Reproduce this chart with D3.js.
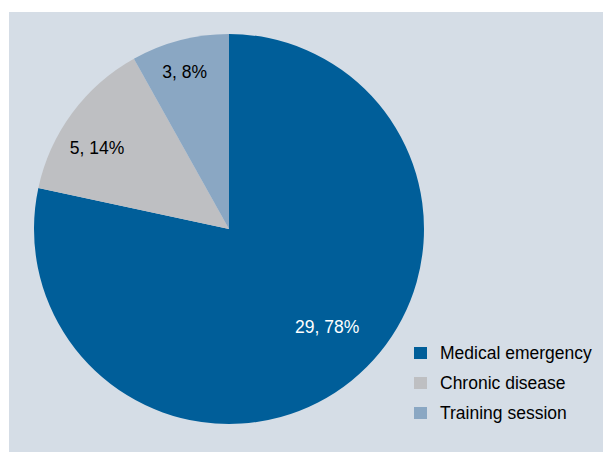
<!DOCTYPE html>
<html>
<head>
<meta charset="utf-8">
<script src="https://cdn.jsdelivr.net/npm/d3@7"></script>
<style>
  body { margin: 0; background: #fff; }
  svg text { font-family: "Liberation Sans", Arial, sans-serif; }
</style>
</head>
<body>
<div id="chart"></div>
<script>
// chart data
var categories = ["Medical emergency", "Chronic disease", "Training session"];
var counts = [29, 5, 3];
var percents = ["78%", "14%", "8%"];
var colors = ["#005e99", "#bebfc2", "#8aa7c3"];
var labelColors = ["#ffffff", "#000000", "#000000"];

var width = 603;
var height = 452;

var svg = d3.select("#chart")
  .append("svg")
  .attr("width", width)
  .attr("height", height);

// plot area background
svg.append("rect")
  .attr("x", 9)
  .attr("y", 12)
  .attr("width", width - 9)
  .attr("height", height - 12)
  .attr("fill", "#d5dde6");

var cx = 229;
var cy = 229;
var radius = 195;

var data = categories.map(function(c, i) {
  return { name: c, value: counts[i], pct: percents[i], color: colors[i], tc: labelColors[i] };
});

var pie = d3.pie()
  .value(function(d) { return d.value; })
  .sort(null);

var arc = d3.arc().innerRadius(0).outerRadius(radius);

var g = svg.append("g")
  .attr("transform", "translate(" + cx + "," + cy + ")");

var arcs = pie(data);

g.selectAll("path.slice")
  .data(arcs)
  .enter()
  .append("path")
  .attr("class", "slice")
  .attr("d", arc)
  .attr("fill", function(d) { return d.data.color; });

// label placement: distance (share of radius) and position across the slice
var labelR = [0.71, 0.795, 0.836];
var labelF = [0.478, 0.40, 0.46];

g.selectAll("text.lbl")
  .data(arcs)
  .enter()
  .append("text")
  .attr("class", "lbl")
  .attr("transform", function(d, i) {
    var a = d.startAngle + labelF[i] * (d.endAngle - d.startAngle);
    var r = radius * labelR[i];
    return "translate(" + (r * Math.sin(a)) + "," + (-r * Math.cos(a)) + ")";
  })
  .attr("text-anchor", "middle")
  .attr("dy", "0.35em")
  .attr("font-size", 17.5)
  .attr("fill", function(d) { return d.data.tc; })
  .text(function(d) { return d.data.value + ", " + d.data.pct; });

// legend
var legend = svg.append("g")
  .attr("transform", "translate(414, 347)");

var rows = legend.selectAll("g.row")
  .data(data)
  .enter()
  .append("g")
  .attr("class", "row")
  .attr("transform", function(d, i) { return "translate(0," + (i * 30) + ")"; });

rows.append("rect")
  .attr("width", 13)
  .attr("height", 12)
  .attr("fill", function(d) { return d.color; });

rows.append("text")
  .attr("x", 26)
  .attr("y", 6)
  .attr("dy", "0.35em")
  .attr("font-size", 17.5)
  .attr("fill", "#000")
  .text(function(d) { return d.name; });
</script>
</body>
</html>
